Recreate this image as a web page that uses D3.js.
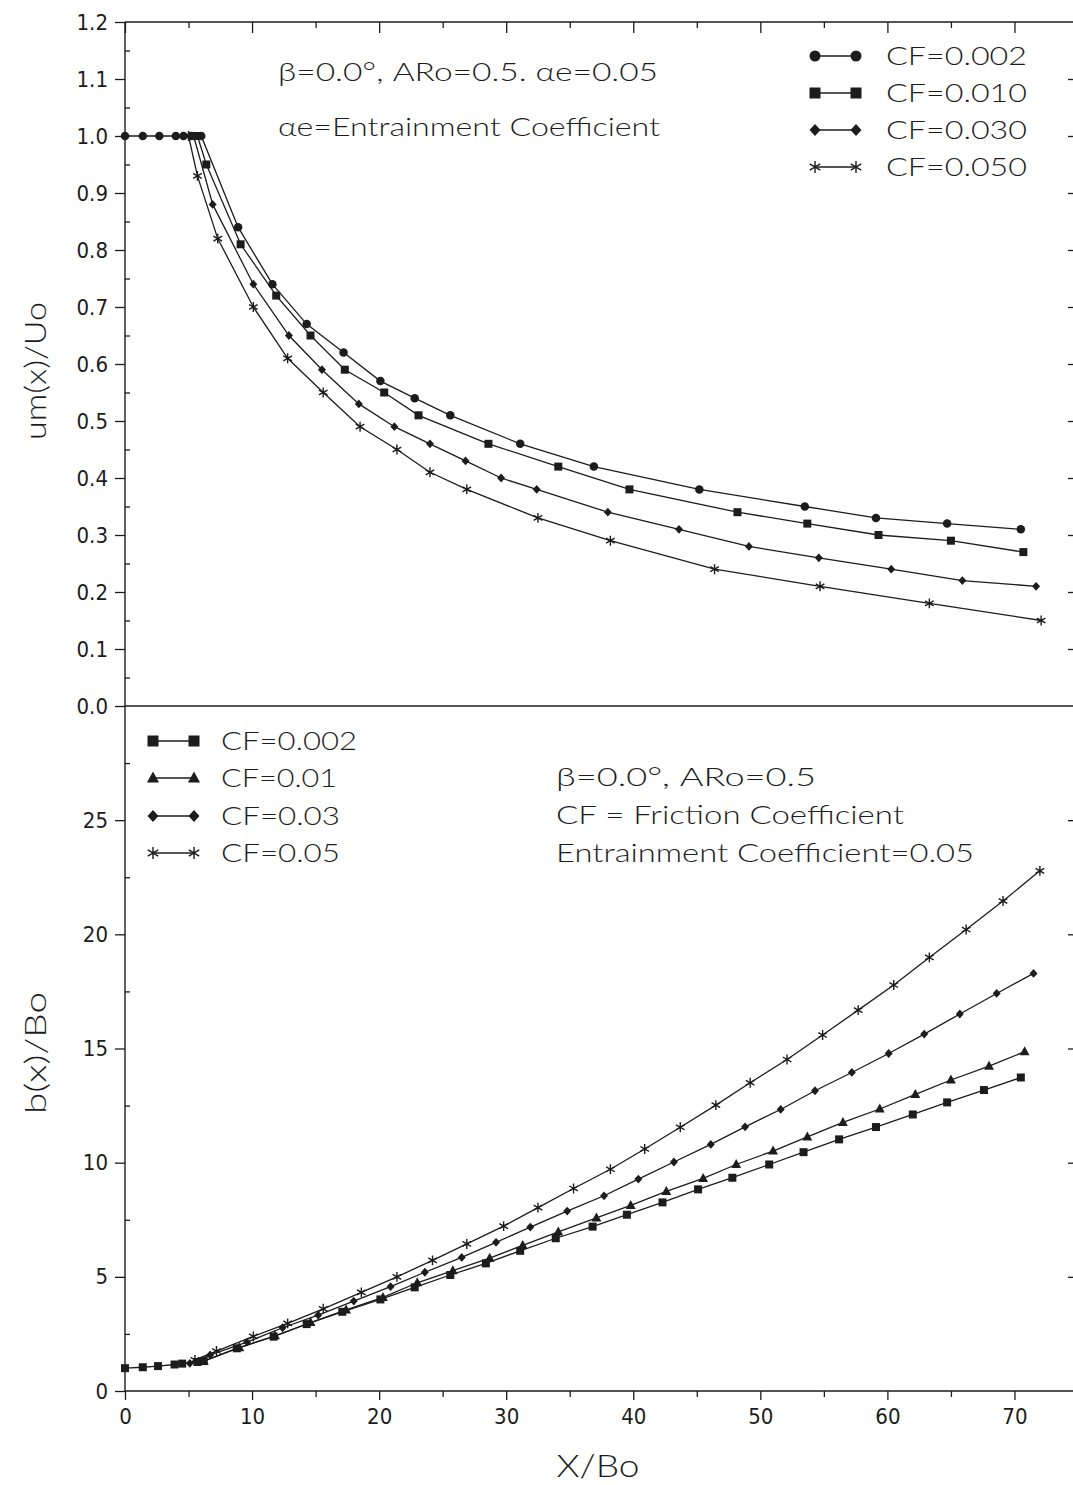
<!DOCTYPE html>
<html><head><meta charset="utf-8">
<script src="https://cdn.jsdelivr.net/npm/d3@7"></script>
<style>
body{margin:0;background:#fff}
svg{display:block}
text{fill:#1c1c1c}
.tk text{font-family:"Liberation Sans Narrow","Arial Narrow","DejaVu Sans Condensed","Liberation Sans",sans-serif;font-size:22px;font-stretch:condensed}
.ann{font-family:Lato,"Liberation Sans",Arial,sans-serif;font-weight:300}
</style>
</head><body>
<svg id="c" width="1073" height="1485"></svg>
<script>
// ---------- DATA: top panel um(x)/Uo ----------
const topSeriesNames = ["CF=0.002","CF=0.010","CF=0.030","CF=0.050"];
const topX_cf002 = [0,1.4,2.7,4.0,4.6,5.2,6.0,8.9,11.6,14.3,17.2,20.1,22.8,25.6,31.1,36.9,45.2,53.5,59.1,64.7,70.5];
const topY_cf002 = [1,1,1,1,1,1,1,0.84,0.74,0.67,0.62,0.57,0.54,0.51,0.46,0.42,0.38,0.35,0.33,0.32,0.31];
const topX_cf010 = [5.7,6.4,9.1,11.9,14.6,17.3,20.4,23.1,28.6,34.1,39.7,48.2,53.7,59.3,65.0,70.7];
const topY_cf010 = [1,0.95,0.81,0.72,0.65,0.59,0.55,0.51,0.46,0.42,0.38,0.34,0.32,0.30,0.29,0.27];
const topX_cf030 = [5.4,6.9,10.1,12.9,15.5,18.4,21.2,24.0,26.8,29.6,32.4,38.0,43.6,49.1,54.6,60.3,65.9,71.7];
const topY_cf030 = [1,0.88,0.74,0.65,0.59,0.53,0.49,0.46,0.43,0.40,0.38,0.34,0.31,0.28,0.26,0.24,0.22,0.21];
const topX_cf050 = [5.0,5.7,7.3,10.1,12.8,15.6,18.5,21.4,24.0,26.9,32.5,38.2,46.4,54.7,63.3,72.1];
const topY_cf050 = [1,0.93,0.82,0.70,0.61,0.55,0.49,0.45,0.41,0.38,0.33,0.29,0.24,0.21,0.18,0.15];

// ---------- DATA: bottom panel b(x)/Bo ----------
const botSeriesNames = ["CF=0.002","CF=0.01","CF=0.03","CF=0.05"];
const botX_cf002 = [0,1.4,2.6,3.9,4.5,5.7,6.2,8.8,11.7,14.3,17.1,20.1,22.8,25.6,28.4,31.1,33.9,36.8,39.5,42.3,45.1,47.8,50.7,53.4,56.2,59.1,62.0,64.7,67.6,70.5];
const botY_cf002 = [1.0,1.04,1.09,1.16,1.2,1.27,1.31,1.87,2.38,2.93,3.47,4.01,4.54,5.08,5.59,6.14,6.69,7.2,7.72,8.26,8.83,9.34,9.92,10.46,11.02,11.56,12.11,12.64,13.18,13.73];
const botX_cf01 = [6.2,9.0,11.8,14.6,17.4,20.3,23.0,25.8,28.7,31.3,34.1,37.1,39.8,42.6,45.5,48.1,51.0,53.7,56.5,59.4,62.2,65.0,68.0,70.8];
const botY_cf01 = [1.31,1.9,2.42,3.0,3.55,4.1,4.74,5.27,5.82,6.38,6.97,7.58,8.13,8.74,9.31,9.92,10.51,11.13,11.76,12.35,12.99,13.62,14.23,14.86];
const botX_cf03 = [5.1,6.7,9.6,12.4,15.2,18.0,20.9,23.6,26.5,29.2,31.9,34.8,37.7,40.4,43.2,46.1,48.8,51.6,54.3,57.2,60.1,62.9,65.7,68.6,71.5];
const botY_cf03 = [1.21,1.58,2.14,2.77,3.32,3.94,4.57,5.2,5.85,6.51,7.18,7.88,8.55,9.28,10.03,10.8,11.57,12.33,13.15,13.95,14.78,15.63,16.51,17.41,18.29];
const botX_cf05 = [5.5,7.2,10.1,12.8,15.6,18.6,21.4,24.2,26.9,29.8,32.5,35.3,38.2,40.9,43.7,46.5,49.2,52.1,54.9,57.7,60.5,63.3,66.2,69.1,72.0];
const botY_cf05 = [1.36,1.75,2.39,2.96,3.6,4.32,5.0,5.72,6.44,7.22,8.03,8.87,9.71,10.6,11.55,12.52,13.5,14.52,15.59,16.68,17.78,18.99,20.21,21.46,22.78];

// ---------- tick labels ----------
const xTickLabels = [0,10,20,30,40,50,60,70];
const xMinorTicks = [5,15,25,35,45,55,65,75];
const yTopTickLabels = [0,0.1,0.2,0.3,0.4,0.5,0.6,0.7,0.8,0.9,1.0,1.1,1.2];
const yBotTickLabels = [0,5,10,15,20,25];

// ---------- text ----------
const topAnn1 = "\u03B2=0.0\u00B0, ARo=0.5. \u03B1e=0.05";
const topAnn2 = "\u03B1e=Entrainment Coefficient";
const botAnn = ["\u03B2=0.0\u00B0,   ARo=0.5","CF = Friction Coefficient","Entrainment Coefficient=0.05"];

// ---------- layout ----------
const svg = d3.select("#c");
const x = d3.scaleLinear().domain([0,75]).range([125,1078]);
const yTop = d3.scaleLinear().domain([0,1.2]).range([706,22]);
const yBot = d3.scaleLinear().domain([0,30]).range([1391,706]);
const ink = "#1c1c1c";

// frame
const frame = svg.append("g").attr("stroke",ink).attr("stroke-width",1.4).attr("fill","none");
frame.append("line").attr("x1",x(0)).attr("x2",x(75)).attr("y1",yTop(1.2)).attr("y2",yTop(1.2));
frame.append("line").attr("x1",x(0)).attr("x2",x(75)).attr("y1",yTop(0)).attr("y2",yTop(0));
frame.append("line").attr("x1",x(0)).attr("x2",x(75)).attr("y1",yBot(0)).attr("y2",yBot(0));
frame.append("line").attr("x1",x(0)).attr("x2",x(0)).attr("y1",yTop(1.2)).attr("y2",yBot(0));
frame.append("line").attr("x1",x(75)).attr("x2",x(75)).attr("y1",yTop(1.2)).attr("y2",yBot(0));

function styleAxis(g){
  g.select(".domain").remove();
  g.selectAll(".tick line").attr("stroke",ink).attr("stroke-width",1.3);
  g.attr("class","tk");
  g.selectAll("text").attr("fill",ink);
}

// top axis (inward ticks) for top panel
svg.append("g").attr("transform",`translate(0,${yTop(1.2)})`)
  .call(d3.axisBottom(x).tickValues(xTickLabels).tickSize(11).tickFormat(""))
  .call(styleAxis);
svg.append("g").attr("transform",`translate(0,${yTop(1.2)})`)
  .call(d3.axisBottom(x).tickValues(xMinorTicks).tickSize(6).tickFormat(""))
  .call(styleAxis);

// bottom x axis
svg.append("g").attr("transform",`translate(0,${yBot(0)})`)
  .call(d3.axisBottom(x).tickValues(xTickLabels).tickSize(9).tickPadding(8).tickFormat(d3.format("d")))
  .call(styleAxis);
svg.append("g").attr("transform",`translate(0,${yBot(0)})`)
  .call(d3.axisBottom(x).tickValues(xMinorTicks.slice(0,7)).tickSize(6).tickFormat(""))
  .call(styleAxis);

// left y axes
svg.append("g").attr("transform",`translate(${x(0)},0)`)
  .call(d3.axisLeft(yTop).tickValues(yTopTickLabels).tickSize(10).tickPadding(7).tickFormat(d3.format(".1f")))
  .call(styleAxis);
svg.append("g").attr("transform",`translate(${x(0)},0)`)
  .call(d3.axisRight(yTop).tickValues(d3.range(0.05,1.2,0.1)).tickSize(5).tickFormat(""))
  .call(styleAxis);
svg.append("g").attr("transform",`translate(${x(0)},0)`)
  .call(d3.axisLeft(yBot).tickValues(yBotTickLabels).tickSize(10).tickPadding(7).tickFormat(d3.format("d")))
  .call(styleAxis);
svg.append("g").attr("transform",`translate(${x(0)},0)`)
  .call(d3.axisRight(yBot).tickValues(d3.range(2.5,30,5)).tickSize(5).tickFormat(""))
  .call(styleAxis);

// right axes (inward)
svg.append("g").attr("transform",`translate(${x(75)},0)`)
  .call(d3.axisLeft(yTop).tickValues(yTopTickLabels.slice(1,12)).tickSize(10).tickFormat(""))
  .call(styleAxis);
svg.append("g").attr("transform",`translate(${x(75)},0)`)
  .call(d3.axisLeft(yBot).tickValues(yBotTickLabels.slice(1)).tickSize(10).tickFormat(""))
  .call(styleAxis);

// markers
function starPath(r){
  const a=r*0.87,b=r*0.5;
  return `M0,${-r}L0,${r}M${-a},${-b}L${a},${b}M${-a},${b}L${a},${-b}`;
}
function marker(g, type, s){
  if(type==="circle") g.append("circle").attr("r",s*0.5).attr("fill",ink);
  else if(type==="square") g.append("rect").attr("x",-s/2).attr("y",-s/2).attr("width",s).attr("height",s).attr("fill",ink);
  else if(type==="diamond") g.append("path").attr("d",`M0,${-s*0.55}L${s*0.5},0L0,${s*0.55}L${-s*0.5},0Z`).attr("fill",ink);
  else if(type==="triangle") g.append("path").attr("d",`M0,${-s*0.6}L${s*0.55},${s*0.4}L${-s*0.55},${s*0.4}Z`).attr("fill",ink);
  else if(type==="star") g.append("path").attr("d",starPath(s*0.55)).attr("stroke",ink).attr("stroke-width",1.4).attr("fill","none");
}

function drawSeries(xs, ys, yScale, type, size){
  const pts = xs.map((v,i)=>[v,ys[i]]);
  const line = d3.line().x(d=>x(d[0])).y(d=>yScale(d[1]));
  svg.append("path").attr("d",line(pts)).attr("fill","none").attr("stroke",ink).attr("stroke-width",1.3);
  const g = svg.append("g");
  pts.forEach(p=>{
    const m = g.append("g").attr("transform",`translate(${x(p[0])},${yScale(p[1])})`);
    marker(m,type,size);
  });
}

drawSeries(topX_cf050, topY_cf050, yTop, "star", 9);
drawSeries(topX_cf030, topY_cf030, yTop, "diamond", 8);
drawSeries(topX_cf010, topY_cf010, yTop, "square", 8);
drawSeries(topX_cf002, topY_cf002, yTop, "circle", 8.5);

drawSeries(botX_cf05, botY_cf05, yBot, "star", 9);
drawSeries(botX_cf03, botY_cf03, yBot, "diamond", 8);
drawSeries(botX_cf01, botY_cf01, yBot, "triangle", 9);
drawSeries(botX_cf002, botY_cf002, yBot, "square", 8);

// legends
function legend(names, types, x1, x2, tx, ys, tw, size){
  names.forEach((n,i)=>{
    const y = ys[i];
    svg.append("line").attr("x1",x1).attr("x2",x2).attr("y1",y).attr("y2",y).attr("stroke",ink).attr("stroke-width",1.3);
    [x1,x2].forEach(px=>{
      const m = svg.append("g").attr("transform",`translate(${px},${y})`);
      marker(m,types[i],size);
    });
    svg.append("text").attr("class","ann").attr("x",tx).attr("y",y+9)
      .attr("font-size",25).attr("textLength",tw[i]).attr("lengthAdjust","spacingAndGlyphs").text(n);
  });
}
legend(topSeriesNames, ["circle","square","diamond","star"], 815, 856, 886, [56,93,130,167], [141,141,141,141], 11);
legend(botSeriesNames, ["square","triangle","diamond","star"], 153, 194, 221, [741,778,816,853], [136,116,119,119], 11);

// annotations
svg.append("text").attr("class","ann").attr("x",278).attr("y",81).attr("font-size",25)
  .attr("textLength",380).attr("lengthAdjust","spacingAndGlyphs").text(topAnn1);
svg.append("text").attr("class","ann").attr("x",278).attr("y",136).attr("font-size",25)
  .attr("textLength",382).attr("lengthAdjust","spacingAndGlyphs").text(topAnn2);
const botAnnW = [260,348,418];
const botAnnY = [786,824,862];
botAnn.forEach((t,i)=>{
  svg.append("text").attr("class","ann").attr("x",556).attr("y",botAnnY[i]).attr("font-size",25)
    .attr("textLength",botAnnW[i]).attr("lengthAdjust","spacingAndGlyphs").text(t);
});

// axis titles
svg.append("text").attr("class","ann").attr("transform","translate(46,371) rotate(-90)")
  .attr("text-anchor","middle").attr("font-size",29).attr("textLength",138).attr("lengthAdjust","spacingAndGlyphs").text("um(x)/Uo");
svg.append("text").attr("class","ann").attr("transform","translate(46,1053) rotate(-90)")
  .attr("text-anchor","middle").attr("font-size",29).attr("textLength",122).attr("lengthAdjust","spacingAndGlyphs").text("b(x)/Bo");
svg.append("text").attr("class","ann").attr("x",598).attr("y",1477)
  .attr("text-anchor","middle").attr("font-size",31).attr("textLength",83).attr("lengthAdjust","spacingAndGlyphs").text("X/Bo");
</script>
</body></html>
